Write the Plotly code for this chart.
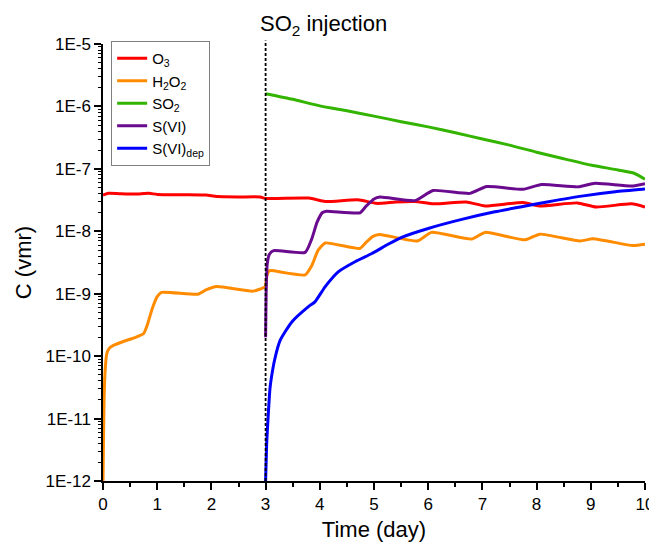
import math
import plotly.graph_objects as go

# ---- data ----
o3_t = [0, 0.1, 0.3, 0.6, 0.85, 1.0, 1.5, 1.9, 2.1, 2.5, 2.9, 3.0, 3.1, 3.8, 4.1, 4.7, 5.05, 5.4, 5.75,
        6.1, 6.7, 7.05, 7.75, 8.05, 8.75, 9.1, 9.75, 10]
o3_c = [3.8e-8, 4.05e-8, 4.0e-8, 3.95e-8, 4.05e-8, 3.9e-8, 3.85e-8, 3.8e-8, 3.6e-8, 3.55e-8, 3.55e-8,
        3.35e-8, 3.35e-8, 3.4e-8, 3.0e-8, 3.2e-8, 2.8e-8, 2.95e-8, 3.0e-8, 2.75e-8, 2.95e-8, 2.55e-8,
        2.9e-8, 2.55e-8, 2.85e-8, 2.45e-8, 2.75e-8, 2.45e-8]

h2o2_t = [0, 0.01, 0.02, 0.04, 0.07, 0.12, 0.2, 0.4, 0.6, 0.75, 0.82, 0.9, 1.0, 1.08, 1.75, 1.9, 2.1,
          2.77, 2.99, 3.02, 3.06, 3.1, 3.73, 3.85, 3.97, 4.1, 4.74, 4.85, 4.98, 5.1, 5.8, 6.06, 6.8,
          7.05, 7.79, 8.06, 8.8, 9.04, 9.78, 10]
h2o2_c = [1e-12, 5e-12, 2e-11, 6e-11, 1.1e-10, 1.35e-10, 1.5e-10, 1.75e-10, 2.0e-10, 2.3e-10, 3.2e-10,
          5.5e-10, 9e-10, 1.05e-9, 9.8e-10, 1.15e-9, 1.3e-9, 1.1e-9, 1.3e-9, 1.9e-9, 2.3e-9, 2.35e-9,
          2.0e-9, 2.8e-9, 5.0e-9, 6.5e-9, 5.3e-9, 6.6e-9, 8.3e-9, 8.9e-9, 7.0e-9, 9.6e-9, 7.5e-9,
          9.6e-9, 7.3e-9, 9.0e-9, 7.0e-9, 7.6e-9, 5.9e-9, 6.2e-9]

so2_t = [3.0, 3.5, 4.0, 4.5, 5.0, 5.5, 6.0, 6.5, 7.0, 7.5, 8.0, 8.5, 9.0, 9.5, 9.8, 10]
so2_c = [1.6e-6, 1.3e-6, 1.02e-6, 8.5e-7, 7.0e-7, 5.7e-7, 4.7e-7, 3.8e-7, 3.0e-7, 2.4e-7, 1.85e-7,
         1.45e-7, 1.15e-7, 9.6e-8, 8.5e-8, 6.8e-8]

s6_t = [3.0, 3.01, 3.03, 3.07, 3.15, 3.73, 3.85, 3.95, 4.05, 4.12, 4.74, 4.85, 5.0, 5.11, 5.76, 6.09,
        6.77, 7.08, 7.75, 8.09, 8.77, 9.08, 9.75, 10]
s6_c = [2.0e-10, 1.0e-9, 3.0e-9, 4.3e-9, 4.9e-9, 4.6e-9, 7.5e-9, 1.4e-8, 2.0e-8, 2.1e-8, 1.98e-8,
        2.5e-8, 3.3e-8, 3.55e-8, 3.1e-8, 4.5e-8, 4.05e-8, 5.2e-8, 4.7e-8, 5.6e-8, 5.15e-8, 5.9e-8,
        5.3e-8, 5.8e-8]

s6dep_t = [3.0, 3.02, 3.05, 3.08, 3.11, 3.17, 3.27, 3.48, 3.79, 3.91, 4.1, 4.34, 4.65, 4.96, 5.26,
           5.51, 6.0, 6.62, 7.23, 7.7, 8.22, 8.83, 9.45, 10]
s6dep_c = [1e-12, 4e-12, 1.2e-11, 3.0e-11, 4.7e-11, 9e-11, 1.8e-10, 3.5e-10, 6.2e-10, 7.4e-10,
           1.3e-9, 2.24e-9, 3.25e-9, 4.4e-9, 6.2e-9, 8.0e-9, 1.11e-8, 1.55e-8, 2.05e-8, 2.45e-8,
           2.97e-8, 3.66e-8, 4.3e-8, 4.75e-8]

y_decades = [-12, -11, -10, -9, -8, -7, -6, -5]
y_tick_vals = [10.0 ** d for d in y_decades]
y_tick_text = ["1E%d" % d for d in y_decades]
# minor tick positions (2..9 x 10^d) expressed as log10 for a linear overlay axis
y_minor_log = [d + math.log10(m) for d in y_decades[:-1] for m in range(2, 10)]

series = [
    ("O<sub>3</sub>", o3_t, o3_c, "#FF0000"),
    ("H<sub>2</sub>O<sub>2</sub>", h2o2_t, h2o2_c, "#FF8C00"),
    ("SO<sub>2</sub>", so2_t, so2_c, "#33B400"),
    ("S(VI)", s6_t, s6_c, "#6A0A8E"),
    ("S(VI)<sub>dep</sub>", s6dep_t, s6dep_c, "#0000FF"),
]

FONT = "Liberation Sans, Arial, sans-serif"

fig = go.Figure()
for name, t, c, col in series:
    fig.add_trace(go.Scatter(x=t, y=c, name=name, mode="lines",
                             line=dict(color=col, width=3, shape="spline", smoothing=0.5)))

# empty helper trace so the minor-tick overlay axis gets drawn
fig.add_trace(go.Scatter(x=[None], y=[None], yaxis="y2", showlegend=False, hoverinfo="skip"))

fig.add_shape(type="line", xref="x", yref="paper", x0=3, x1=3, y0=0, y1=1.008,
              line=dict(color="black", width=1.8, dash="3px,2px"))
fig.add_annotation(text="SO<sub>2</sub> injection", xref="x", yref="paper", x=3, y=1.008,
                   xanchor="left", yanchor="bottom", xshift=-8, yshift=0, showarrow=False,
                   font=dict(family=FONT, size=22, color="black"))

# page body adds an 8px offset, so the figure is sized to fit the 657x552 window
fig.update_layout(
    width=649, height=544,
    margin=dict(l=95, r=12, t=36, b=71, autoexpand=False),
    paper_bgcolor="white", plot_bgcolor="white",
    font=dict(family=FONT, color="black", size=15),
    showlegend=True,
    legend=dict(x=0.015, y=1.007, xanchor="left", yanchor="top",
                bgcolor="white", bordercolor="#7f7f7f", borderwidth=1,
                font=dict(family=FONT, size=15), tracegroupgap=0, itemwidth=30),
    xaxis=dict(range=[0, 10], tick0=0, dtick=1, showgrid=False, zeroline=False,
               showline=True, linecolor="black", linewidth=1.5, automargin=False,
               ticks="outside", ticklen=7, tickwidth=1.5, tickcolor="black",
               minor=dict(dtick=0.5, ticks="outside", ticklen=4, tickwidth=1.5, tickcolor="black"),
               tickfont=dict(family=FONT, size=17),
               title=dict(text="Time (day)", font=dict(family=FONT, size=22), standoff=8)),
    yaxis=dict(type="log", range=[-12, -5], tickvals=y_tick_vals, ticktext=y_tick_text,
               showgrid=False, zeroline=False, automargin=False,
               showline=True, linecolor="black", linewidth=1.5,
               ticks="outside", ticklen=7, tickwidth=1.5, tickcolor="black",
               tickfont=dict(family=FONT, size=17),
               title=dict(text="C (vmr)", font=dict(family=FONT, size=22), standoff=8)),
    # linear overlay axis (in log10 units) used only to draw the minor log ticks
    yaxis2=dict(type="linear", range=[-12, -5], overlaying="y", side="left", anchor="x",
                tickmode="array", tickvals=y_minor_log, showticklabels=False,
                showgrid=False, zeroline=False, showline=False,
                ticks="outside", ticklen=4, tickwidth=1, tickcolor="black", automargin=False),
)

fig.write_html("out.html")
